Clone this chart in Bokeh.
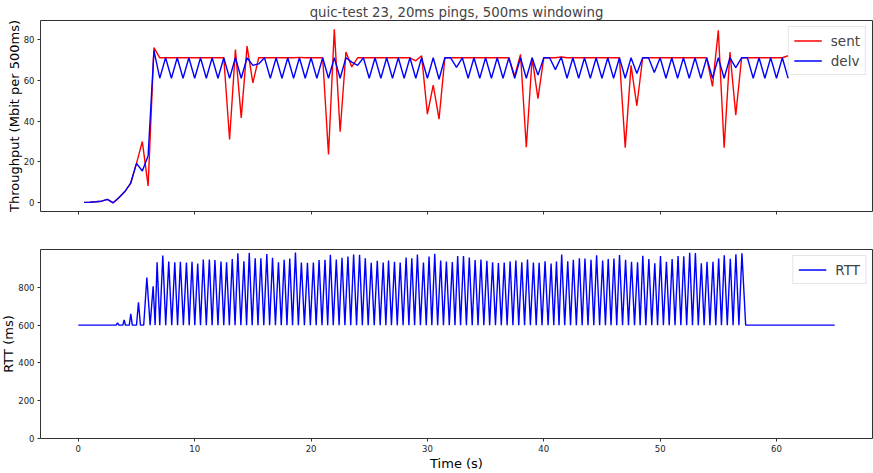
from bokeh.plotting import figure
from bokeh.layouts import column
from bokeh.models import Range1d, FixedTicker, Legend, LegendItem
from bokeh.embed import file_html
from bokeh.resources import INLINE

# ---------------- data ----------------
# 500 ms windows (end time of each window, s)
win_t = [
    0.5, 1.0, 1.5, 2.0, 2.5, 3.0, 3.5, 4.0, 4.5, 5.0,
    5.5, 6.0, 6.5, 7.0, 7.5, 8.0, 8.5, 9.0, 9.5, 10.0,
    10.5, 11.0, 11.5, 12.0, 12.5, 13.0, 13.5, 14.0, 14.5, 15.0,
    15.5, 16.0, 16.5, 17.0, 17.5, 18.0, 18.5, 19.0, 19.5, 20.0,
    20.5, 21.0, 21.5, 22.0, 22.5, 23.0, 23.5, 24.0, 24.5, 25.0,
    25.5, 26.0, 26.5, 27.0, 27.5, 28.0, 28.5, 29.0, 29.5, 30.0,
    30.5, 31.0, 31.5, 32.0, 32.5, 33.0, 33.5, 34.0, 34.5, 35.0,
    35.5, 36.0, 36.5, 37.0, 37.5, 38.0, 38.5, 39.0, 39.5, 40.0,
    40.5, 41.0, 41.5, 42.0, 42.5, 43.0, 43.5, 44.0, 44.5, 45.0,
    45.5, 46.0, 46.5, 47.0, 47.5, 48.0, 48.5, 49.0, 49.5, 50.0,
    50.5, 51.0, 51.5, 52.0, 52.5, 53.0, 53.5, 54.0, 54.5, 55.0,
    55.5, 56.0, 56.5, 57.0, 57.5, 58.0, 58.5, 59.0, 59.5, 60.0,
    60.5, 61.0,
]

# throughput sent (Mbit per 500 ms)
sent = [
    0.2, 0.3, 0.5, 0.8, 1.7, 0.0, 2.6, 5.5, 9.6, 19.3,
    30.0, 8.3, 76.0, 71, 71, 71, 71, 71, 71, 71,
    71, 71, 71, 71, 71, 31, 75, 41.6, 76.7, 58.7,
    71, 71, 71, 71, 71, 71, 71, 71.2, 71, 71,
    71, 71, 23.7, 84.9, 34.8, 73.8, 66.5, 71, 71, 71,
    71, 71, 71, 71, 71, 71, 71, 69.5, 72, 43.4,
    57.6, 41, 71, 71, 71, 71, 71, 71, 71, 71,
    71, 71, 71, 71, 62, 72.7, 27.2, 71, 51, 71,
    71, 71, 71.4, 71, 71, 71, 71, 71, 71, 71,
    71, 71, 71, 27, 67.3, 47.5, 71, 71, 71, 71,
    71, 71, 71, 71, 71, 71, 71, 71, 57, 84.4,
    27, 73.8, 42.9, 71, 71, 71, 71, 71, 71, 71,
    71, 72,
]

# throughput delivered (Mbit per 500 ms)
delv = [
    0.2, 0.3, 0.5, 0.8, 1.7, 0.0, 2.6, 5.5, 9.6, 19.3,
    15.6, 23.1, 74.5, 61, 71, 61, 71, 61, 71, 61,
    71, 61, 71, 61, 71, 61, 71, 61, 71, 67.3,
    68, 71, 61, 71, 61, 71, 61, 71, 61, 71,
    61, 71, 61, 71, 61, 71, 68.9, 67.3, 71, 61,
    71, 61, 71, 61, 71, 61, 71, 61, 71, 61,
    71, 60.5, 71, 71, 66.3, 71, 61, 71, 61, 71,
    61, 71, 61, 71, 61, 71, 61, 71, 62.5, 71,
    71, 65.2, 71.4, 61, 71, 61, 71, 61, 71, 61,
    71, 61, 71, 61, 71, 63.3, 71, 71, 63.8, 71,
    61, 71, 61, 71, 61, 71, 61, 71, 61, 71,
    61, 71, 66.2, 71, 71, 61, 71, 61, 71, 61,
    71, 61,
]

# RTT peaks (s, ms)
rtt_peak_t = [
    3.37, 3.94, 4.51, 5.17, 5.89, 6.43, 6.77,
    7.26, 7.77, 8.29, 8.77, 9.29, 9.77, 10.26, 10.74, 11.26, 11.74,
    12.26, 12.74, 13.23, 13.71, 14.23, 14.69, 15.2, 15.69, 16.2, 16.69,
    17.2, 17.69, 18.17, 18.66, 19.17, 19.69, 20.2, 20.69, 21.2, 21.66,
    22.17, 22.66, 23.17, 23.66, 24.17, 24.66, 25.17, 25.69, 26.2, 26.66,
    27.17, 27.66, 28.17, 28.66, 29.14, 29.66, 30.14, 30.63, 31.14, 31.63,
    32.14, 32.6, 33.1, 33.6, 34.1, 34.6, 35.11, 35.6, 36.1, 36.6,
    37.11, 37.6, 38.11, 38.6, 39.11, 39.6, 40.11, 40.63, 41.09, 41.54,
    42.06, 42.54, 43.06, 43.54, 44.06, 44.54, 45.06, 45.54, 46.03, 46.51,
    47.03, 47.54, 48.06, 48.51, 49.03, 49.54, 50.03, 50.54, 51.03, 51.54,
    52.03, 52.54, 53.03, 53.54, 54.03, 54.54, 55.03, 55.51, 56.03, 56.51,
    57.03,
]
rtt_peak_ms = [
    612, 628, 659, 721, 852, 805, 933,
    968, 936, 933, 935, 931, 935, 926, 947, 947, 944,
    936, 933, 950, 980, 938, 982, 953, 953, 976, 956,
    933, 946, 952, 984, 931, 930, 931, 944, 945, 972,
    947, 956, 963, 974, 972, 953, 930, 940, 931, 942,
    935, 931, 958, 953, 974, 931, 963, 977, 942, 937,
    934, 966, 966, 958, 944, 947, 940, 933, 928, 931,
    937, 942, 933, 947, 931, 930, 938, 926, 937, 974,
    938, 946, 954, 952, 946, 970, 942, 950, 952, 971,
    946, 935, 932, 967, 950, 927, 966, 935, 949, 966,
    964, 982, 981, 927, 935, 935, 952, 969, 951, 975,
    980,
]
# RTT troughs (s); RTT there is the base value
rtt_base_ms = 600
rtt_trough_t = [
    0.0, 3.25, 3.49, 3.83, 4.05, 4.38, 4.64, 5.0, 5.34, 5.62, 6.17, 6.6, 7.0,
    7.51, 8.03, 8.53, 9.03, 9.53, 10.01, 10.5, 11.0, 11.5, 12.0,
    12.5, 12.98, 13.47, 13.97, 14.46, 14.94, 15.44, 15.94, 16.44, 16.94,
    17.44, 17.93, 18.41, 18.91, 19.43, 19.94, 20.44, 20.94, 21.43, 21.91,
    22.41, 22.91, 23.41, 23.91, 24.41, 24.91, 25.43, 25.94, 26.43, 26.91,
    27.41, 27.91, 28.41, 28.9, 29.4, 29.9, 30.38, 30.88, 31.38, 31.88,
    32.37, 32.85, 33.35, 33.85, 34.35, 34.85, 35.35, 35.85, 36.35, 36.85,
    37.35, 37.85, 38.35, 38.85, 39.35, 39.85, 40.37, 40.86, 41.31, 41.8,
    42.3, 42.8, 43.3, 43.8, 44.3, 44.8, 45.3, 45.78, 46.27, 46.77,
    47.28, 47.8, 48.28, 48.77, 49.28, 49.78, 50.28, 50.78, 51.28, 51.78,
    52.28, 52.78, 53.28, 53.78, 54.28, 54.78, 55.27, 55.77, 56.27, 56.77,
    57.35, 65.0,
]

x_ticks = [0, 10, 20, 30, 40, 50, 60]
thr_ticks = [0, 20, 40, 60, 80]
rtt_ticks = [0, 200, 400, 600, 800]

title_text = "quic-test 23, 20ms pings, 500ms windowing"
x_label = "Time (s)"
thr_label = "Throughput (Mbit per 500ms)"
rtt_label = "RTT (ms)"

# ---------------- build polyline for RTT ----------------
pts = [(t, v) for t, v in zip(rtt_peak_t, rtt_peak_ms)]
pts += [(t, rtt_base_ms) for t in rtt_trough_t]
pts.sort(key=lambda a: a[0])
rtt_t = [a[0] for a in pts]
rtt_ms = [a[1] for a in pts]

# ---------------- styling ----------------
FONT = "DejaVu Sans"
SPINE = "#333333"
LW = 1.4
SHIFT = 10          # left border hidden off-page via a negative margin
BORDER_L = 40 + SHIFT
FIG_W = 873 + SHIFT

x_range = Range1d(-3.25, 68.25)


def style(p, yticks):
    p.outline_line_color = SPINE
    p.outline_line_width = 1
    p.xgrid.visible = False
    p.ygrid.visible = False
    p.background_fill_color = "white"
    p.border_fill_color = "white"
    p.xaxis.ticker = FixedTicker(ticks=x_ticks)
    p.yaxis.ticker = FixedTicker(ticks=yticks)
    for ax in (p.xaxis[0], p.yaxis[0]):
        ax.axis_line_color = None
        ax.major_tick_out = 3
        ax.major_tick_in = 0
        ax.major_tick_line_color = SPINE
        ax.minor_tick_line_color = None
        ax.major_label_text_font = FONT
        ax.major_label_text_font_size = "8.5px"
        ax.major_label_text_color = "#222222"
        ax.major_label_standoff = 3
        ax.axis_label_text_font = FONT
        ax.axis_label_text_font_size = "13px"
        ax.axis_label_text_font_style = "normal"
        ax.axis_label_text_color = "black"


p1 = figure(width=FIG_W, height=230, x_range=x_range,
            y_range=Range1d(-4.25, 89.25), output_backend="svg",
            toolbar_location=None, min_border_left=BORDER_L,
            min_border_right=1, min_border_top=20, min_border_bottom=19)
style(p1, thr_ticks)
p1.title.text = title_text
p1.title.align = "center"
p1.title.text_font = FONT
p1.title.text_font_size = "13.3px"
p1.title.text_font_style = "normal"
p1.title.standoff = 2
p1.xaxis.major_label_text_color = None
p1.yaxis.axis_label = thr_label
p1.yaxis.axis_label_standoff = -1

r_sent = p1.line(win_t, sent, line_color="red", line_width=LW)
r_delv = p1.line(win_t, delv, line_color="blue", line_width=LW)

leg1 = Legend(items=[LegendItem(label="sent", renderers=[r_sent]),
                     LegendItem(label="delv", renderers=[r_delv])],
              location="top_right")
p1.add_layout(leg1)

p2 = figure(width=FIG_W, height=243, x_range=x_range,
            y_range=Range1d(0, 1000), output_backend="svg",
            toolbar_location=None, min_border_left=BORDER_L,
            min_border_right=1, min_border_top=19, min_border_bottom=34)
style(p2, rtt_ticks)
p2.xaxis.axis_label = x_label
p2.xaxis.axis_label_standoff = 1
p2.yaxis.axis_label = rtt_label
p2.yaxis.axis_label_standoff = -1

r_rtt = p2.line(rtt_t, rtt_ms, line_color="blue", line_width=LW)
leg2 = Legend(items=[LegendItem(label="RTT", renderers=[r_rtt])],
              location="top_right")
p2.add_layout(leg2)

for lg in (leg1, leg2):
    lg.label_text_font = FONT
    lg.label_text_font_size = "13.5px"
    lg.glyph_width = 28
    lg.glyph_height = 17
    lg.label_height = 17
    lg.label_standoff = 9
    lg.padding = 5
    lg.spacing = 3
    lg.margin = 6
    lg.border_line_color = "#cccccc"
    lg.border_line_width = 1
    lg.background_fill_alpha = 0.85

layout = column(p1, p2, spacing=0, margin=(0, 0, 0, -SHIFT))

open("out.html", "w").write(file_html(layout, INLINE))
